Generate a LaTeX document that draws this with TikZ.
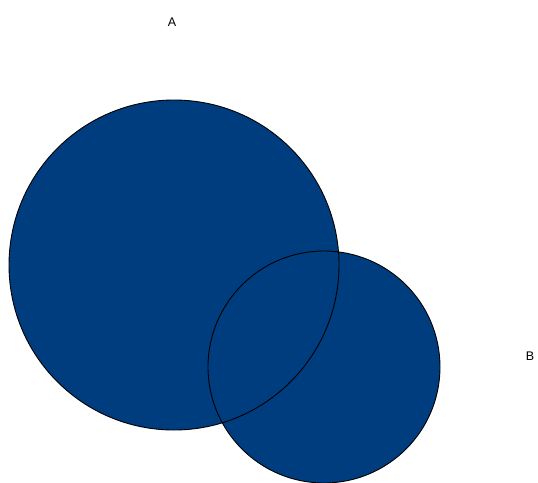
\documentclass[tikz,border=0pt]{standalone}
\usepackage{fontspec}
\setmainfont{Liberation Sans}
\definecolor{setblue}{HTML}{003D7E}
\begin{document}
\begin{tikzpicture}[x=1pt,y=-1pt,
  setfill/.style={circle,fill=setblue,inner sep=0pt},
  setline/.style={circle,draw=black,line width=0.9pt,inner sep=0pt},
  setlabel/.style={font=\fontsize{12.5}{14}\selectfont,inner sep=0pt}]
\useasboundingbox (0,0) rectangle (538,482);
% fills
\node[setfill,minimum size=330pt] (A) at (174,265) {};
\node[setfill,minimum size=232pt] (B) at (324,367) {};
% outlines
\node[setline,minimum size=330pt] (Aout) at (174,265) {};
\node[setline,minimum size=232pt] (Bout) at (324,367) {};
% labels
\node[setlabel] (la) at (172,22) {A};
\node[setlabel] (lb) at (530,356) {B};
\end{tikzpicture}
\end{document}
